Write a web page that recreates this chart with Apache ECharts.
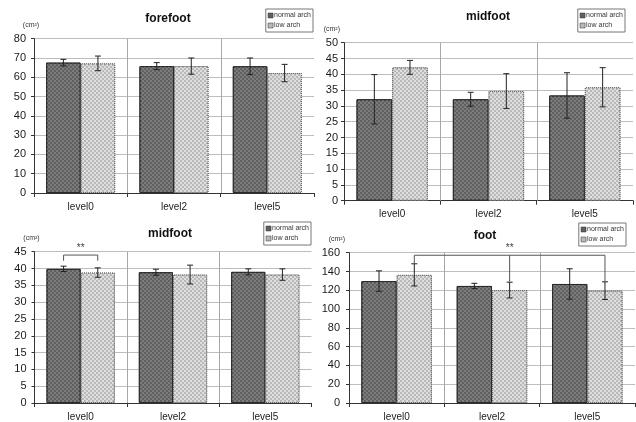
<!DOCTYPE html>
<html><head><meta charset="utf-8">
<script src="https://cdn.jsdelivr.net/npm/echarts@6/dist/echarts.min.js"></script>
<style>html,body{margin:0;padding:0;background:#fff}#c{width:636px;height:422px}</style>
</head><body><div id="c"></div>
<script>
var categories = ['level0', 'level2', 'level5'];
var seriesNames = ['normal arch', 'low arch'];
// forefoot
var foreNormal = [67.6, 65.8, 65.7];
var foreNormalSD = [1.7, 1.8, 4.3];
var foreLow = [67.2, 65.8, 62.2];
var foreLowSD = [3.8, 4.2, 4.5];
// midfoot (top right)
var mid1Normal = [32.1, 32.1, 33.3];
var mid1NormalSD = [7.8, 2.2, 7.2];
var mid1Low = [42.2, 34.7, 35.9];
var mid1LowSD = [2.2, 5.5, 6.2];
// midfoot (bottom left)
var mid2Normal = [39.9, 38.9, 39.0];
var mid2NormalSD = [0.8, 0.9, 0.9];
var mid2Low = [38.8, 38.2, 38.2];
var mid2LowSD = [1.4, 2.8, 1.7];
// foot
var footNormal = [129.8, 124.6, 126.7];
var footNormalSD = [10.9, 2.8, 16.2];
var footLow = [136.4, 120.2, 119.6];
var footLowSD = [11.8, 8.4, 9.4];
// y axis ticks
var yMax = [80, 50, 45, 160];
var yInterval = [10, 5, 5, 20];
// significance brackets: legs [category index, series slot, leg end value]
var bracketMidLegs = [[0, 0, 42.3], [0, 1, 42.3]];
var bracketMidTop = 44;
var bracketFootLegs = [[0, 1, 148.4], [1, 1, 129.2], [2, 1, 129.2]];
var bracketFootTop = 157.3;
var sigLabel = '**';

var panels = [
  {title: 'forefoot', n: foreNormal, nsd: foreNormalSD, l: foreLow, lsd: foreLowSD},
  {title: 'midfoot', n: mid1Normal, nsd: mid1NormalSD, l: mid1Low, lsd: mid1LowSD},
  {title: 'midfoot', n: mid2Normal, nsd: mid2NormalSD, l: mid2Low, lsd: mid2LowSD},
  {title: 'foot', n: footNormal, nsd: footNormalSD, l: footLow, lsd: footLowSD}
];
var grids = [
  {left: 34, top: 38.7, width: 280, height: 154.3},
  {left: 344, top: 42.7, width: 289, height: 158},
  {left: 34.5, top: 251.7, width: 277, height: 153.6},
  {left: 349, top: 252.7, width: 286, height: 152.3}
];
var titlePos = [[168, 19], [488, 17], [170, 234], [485, 236]];
var legendPos = [[323, 9], [11, 9], [325, 222], [10, 223]];
var labelMargin = [8, 6, 8, 9];

var FONT = '"Liberation Sans", Arial, sans-serif';
var OFF = 0.185; // bar centre offset as fraction of band
var normalStyle = {color: '#606060', borderColor: '#2a2a2a', borderWidth: 1,
  decal: {symbol: 'rect', symbolSize: 1, dashArrayX: [[2, 2], [0, 2, 2, 0]], dashArrayY: [2, 0], color: '#7c7c7c'}};
var lowStyle = {color: '#b9b9b9', borderColor: '#666', borderWidth: 1, borderType: 'dotted',
  decal: {symbol: 'rect', symbolSize: 1, dashArrayX: [[2, 2], [0, 2, 2, 0]], dashArrayY: [2, 0], color: '#dedede'}};

function errRender(slot) {
  return function (params, api) {
    var band = api.size([1, 0])[0];
    var c = api.value(0);
    var p1 = api.coord([c, api.value(1)]);
    var p2 = api.coord([c, api.value(2)]);
    var x = p1[0] + (slot === 0 ? -1 : 1) * band * OFF;
    var cap = 3;
    var st = {stroke: '#222', lineWidth: 1};
    return {type: 'group', children: [
      {type: 'line', shape: {x1: x, y1: p1[1], x2: x, y2: p2[1]}, style: st},
      {type: 'line', shape: {x1: x - cap, y1: p1[1], x2: x + cap, y2: p1[1]}, style: st},
      {type: 'line', shape: {x1: x - cap, y1: p2[1], x2: x + cap, y2: p2[1]}, style: st}
    ]};
  };
}
function dividerRender(params, api) {
  var band = api.size([1, 0])[0];
  var cs = params.coordSys;
  var x = Math.round(api.coord([api.value(0), 0])[0] - band / 2) + 0.5;
  return {type: 'line', shape: {x1: x, y1: cs.y, x2: x, y2: cs.y + cs.height}, style: {stroke: '#a8a8a8', lineWidth: 1}};
}
function bracketRender(legs, top) {
  return function (params, api) {
    var band = api.size([1, 0])[0];
    function legX(leg) { return api.coord([leg[0], top])[0] + (leg[1] === 0 ? -1 : 1) * band * OFF; }
    var i = params.dataIndex;
    var x = legX(legs[i]);
    var yt = api.coord([legs[i][0], top])[1];
    var ye = api.coord([legs[i][0], legs[i][2]])[1];
    var st = {stroke: '#555', lineWidth: 1};
    var ch = [{type: 'line', shape: {x1: x, y1: yt, x2: x, y2: ye}, style: st}];
    if (i === 0) {
      var xl = legX(legs[legs.length - 1]);
      ch.push({type: 'line', shape: {x1: x, y1: yt, x2: xl, y2: yt}, style: st});
      ch.push({type: 'text', style: {text: sigLabel, x: (x + xl) / 2, y: yt - 2, align: 'center', verticalAlign: 'bottom', fill: '#444', font: '10px ' + FONT}});
    }
    return {type: 'group', children: ch};
  };
}

var option = {
  animation: false,
  backgroundColor: '#fff',
  grid: grids.map(function (g) { return Object.assign({containLabel: false}, g); }),
  legend: legendPos.map(function (p) {
    return {data: seriesNames, right: p[0], top: p[1], orient: 'vertical', itemWidth: 5, itemHeight: 5, itemGap: 3,
      padding: [3, 2, 3, 2], borderColor: '#777', borderWidth: 1, backgroundColor: '#fff', icon: 'rect',
      itemStyle: {borderColor: '#333', borderWidth: 0.5, decal: 'none'},
      textStyle: {fontSize: 7, fontFamily: FONT, color: '#333', padding: [0, 0, 0, -4]}};
  }),
  xAxis: grids.map(function (g, i) {
    return {type: 'category', gridIndex: i, data: categories,
      axisLine: {lineStyle: {color: '#333'}}, axisTick: {show: true, length: 4, lineStyle: {color: '#333'}},
      axisLabel: {fontSize: 10, fontFamily: FONT, color: '#222', margin: 9}, splitLine: {show: false}};
  }),
  yAxis: grids.map(function (g, i) {
    return {type: 'value', gridIndex: i, min: 0, max: yMax[i], interval: yInterval[i],
      name: '(cm²)', nameLocation: 'end', nameGap: 10,
      nameTextStyle: {fontSize: 7, fontFamily: FONT, color: '#333', align: (i % 2 ? 'right' : 'center'), padding: (i % 2 ? [0, 4, 0, 0] : [0, 6, 0, 0])},
      axisLine: {show: true, lineStyle: {color: '#333'}}, axisTick: {show: true, length: 3, lineStyle: {color: '#333'}},
      axisLabel: {fontSize: 11, fontFamily: FONT, color: '#1a1a1a', margin: labelMargin[i]},
      splitLine: {show: true, lineStyle: {color: '#bdbdbd', width: 1}}};
  }),
  graphic: panels.map(function (p, i) {
    return {type: 'text', x: titlePos[i][0], y: titlePos[i][1],
      style: {text: p.title, align: 'center', verticalAlign: 'middle', fill: '#111', font: 'bold 12px ' + FONT}};
  }),
  series: []
};

panels.forEach(function (p, i) {
  option.series.push({name: seriesNames[0], type: 'bar', xAxisIndex: i, yAxisIndex: i, data: p.n,
    barGap: '0%', barCategoryGap: '26%', itemStyle: normalStyle, z: 3});
  option.series.push({name: seriesNames[1], type: 'bar', xAxisIndex: i, yAxisIndex: i, data: p.l,
    barGap: '0%', barCategoryGap: '26%', itemStyle: lowStyle, z: 3});
  option.series.push({type: 'custom', xAxisIndex: i, yAxisIndex: i, z: 1, silent: true,
    data: categories.slice(1).map(function (c, k) { return [k + 1]; }), renderItem: dividerRender});
  option.series.push({type: 'custom', xAxisIndex: i, yAxisIndex: i, z: 5, silent: true,
    data: p.n.map(function (v, k) { return [k, v - p.nsd[k], v + p.nsd[k]]; }), renderItem: errRender(0),
    encode: {x: 0, y: [1, 2]}});
  option.series.push({type: 'custom', xAxisIndex: i, yAxisIndex: i, z: 5, silent: true,
    data: p.l.map(function (v, k) { return [k, v - p.lsd[k], v + p.lsd[k]]; }), renderItem: errRender(1),
    encode: {x: 0, y: [1, 2]}});
});
option.series.push({type: 'custom', xAxisIndex: 2, yAxisIndex: 2, z: 6, silent: true,
  data: bracketMidLegs, renderItem: bracketRender(bracketMidLegs, bracketMidTop), encode: {x: 0, y: 2}});
option.series.push({type: 'custom', xAxisIndex: 3, yAxisIndex: 3, z: 6, silent: true,
  data: bracketFootLegs, renderItem: bracketRender(bracketFootLegs, bracketFootTop), encode: {x: 0, y: 2}});

var chart = echarts.init(document.getElementById('c'), null, {renderer: 'canvas'});
chart.setOption(option);
</script></body></html>
